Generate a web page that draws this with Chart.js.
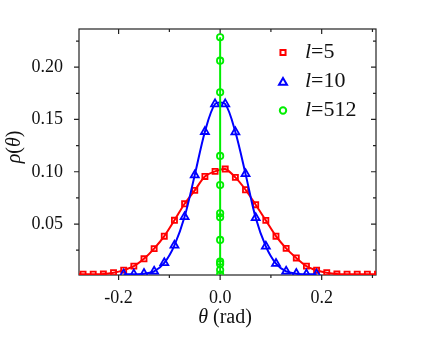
<!DOCTYPE html>
<html>
<head>
<meta charset="utf-8">
<script src="https://cdn.jsdelivr.net/npm/chart.js@4/dist/chart.umd.min.js"></script>
<style>
  body { margin: 0; background: #fff; }
  canvas { display: block; }
</style>
</head>
<body>
<canvas id="myChart" width="436" height="345"></canvas>
<script>
// theta values (rad) for each series
let redTheta = [-0.29, -0.27, -0.25, -0.23, -0.21, -0.19, -0.17, -0.15, -0.13, -0.11, -0.09, -0.07, -0.05, -0.03, -0.01,
  0.01, 0.03, 0.05, 0.07, 0.09, 0.11, 0.13, 0.15, 0.17, 0.19, 0.21, 0.23, 0.25, 0.27, 0.29, 0.31];
let redRho = [0.002, 0.002, 0.002, 0.0022, 0.0035, 0.006, 0.0098, 0.0168, 0.0265, 0.0384, 0.0536, 0.0694, 0.0822, 0.0955, 0.1004,
  0.1026, 0.0946, 0.0828, 0.0685, 0.0535, 0.0384, 0.0268, 0.0176, 0.0098, 0.0058, 0.0035, 0.0022, 0.002, 0.002, 0.002, 0.002];

let blueTheta = [-0.19, -0.17, -0.15, -0.13, -0.11, -0.09, -0.07, -0.05, -0.03, -0.01,
  0.01, 0.03, 0.05, 0.07, 0.09, 0.11, 0.13, 0.15, 0.17, 0.19];
let blueRho = [0.002, 0.002, 0.0026, 0.0048, 0.0129, 0.0297, 0.0569, 0.0968, 0.1383, 0.1648,
  0.1648, 0.138, 0.098, 0.056, 0.0287, 0.0122, 0.0048, 0.0026, 0.002, 0.002];

let greenTheta = [0, 0, 0, 0, 0, 0, 0, 0, 0, 0, 0, 0];
let greenRho = [0.2286, 0.2062, 0.176, 0.1151, 0.0873, 0.0603, 0.0565, 0.0348, 0.014, 0.0118, 0.0061, 0.0018];

let xMajor = [-0.2, 0, 0.2];
let xMinor = [-0.1, 0.1, 0.3];
let yMajor = [0.05, 0.1, 0.15, 0.2];
let yMinor = [0.025, 0.075, 0.125, 0.175, 0.225];

let seriesNames = ["5", "10", "512"];
let seriesColors = ["#ff0000", "#0000ff", "#00ee00"];
let seriesStyles = ["rect", "triangle", "circle"];

function toPoints(xs, ys) {
  let pts = [];
  for (let i = 0; i < xs.length; i++) {
    pts.push({ x: xs[i], y: ys[i] });
  }
  return pts;
}

const SERIF = '"Liberation Serif", "Times New Roman", Times, serif';

// draw a string made of parts with different fonts
function drawParts(ctx, parts, x, y, align) {
  let total = 0;
  parts.forEach(function (p) {
    ctx.font = p.font;
    p.w = ctx.measureText(p.text).width;
    total += p.w;
  });
  let cx = align === "center" ? x - total / 2 : x;
  ctx.textAlign = "left";
  ctx.textBaseline = "middle";
  parts.forEach(function (p) {
    ctx.font = p.font;
    ctx.fillText(p.text, cx, y);
    cx += p.w;
  });
}

function marker(ctx, style, x, y, r) {
  ctx.beginPath();
  if (style === "rect") {
    let s = r * Math.SQRT1_2;
    ctx.rect(x - s, y - s, 2 * s, 2 * s);
  } else if (style === "triangle") {
    ctx.moveTo(x, y - r);
    ctx.lineTo(x + r * Math.sin(2 * Math.PI / 3), y + r * 0.5);
    ctx.lineTo(x - r * Math.sin(2 * Math.PI / 3), y + r * 0.5);
    ctx.closePath();
  } else {
    ctx.arc(x, y, r, 0, Math.PI * 2);
  }
  ctx.stroke();
}

// box round the plot with ticks on all four sides
const framePlugin = {
  id: "frame",
  beforeDatasetsDraw(chart) {
    const { ctx, chartArea: a, scales } = chart;
    const xs = scales.x, ys = scales.y;
    ctx.save();
    ctx.strokeStyle = "#222";
    ctx.lineWidth = 1.2;
    ctx.strokeRect(a.left, a.top, a.right - a.left, a.bottom - a.top);
    ctx.beginPath();
    function xTick(v, len) {
      let px = xs.getPixelForValue(v);
      ctx.moveTo(px, a.bottom); ctx.lineTo(px, a.bottom + len);
      ctx.moveTo(px, a.top); ctx.lineTo(px, a.top + len);
    }
    function yTick(v, len) {
      let py = ys.getPixelForValue(v);
      ctx.moveTo(a.left, py); ctx.lineTo(a.left - len, py);
      ctx.moveTo(a.right, py); ctx.lineTo(a.right - len, py);
    }
    xMajor.forEach(v => xTick(v, 5));
    xMinor.forEach(v => xTick(v, 3));
    yMajor.forEach(v => yTick(v, 5));
    yMinor.forEach(v => yTick(v, 3));
    ctx.stroke();
    ctx.restore();
  },
};

// axis titles and the legend, with italic symbols
const textPlugin = {
  id: "texts",
  afterDraw(chart) {
    const ctx = chart.ctx;
    ctx.save();
    ctx.fillStyle = "#111";
    let it = "italic 20px " + SERIF;
    let up = "20px " + SERIF;
    drawParts(ctx, [{ text: "\u03b8", font: it }, { text: " (rad)", font: up }], 225, 318, "center");

    ctx.save();
    ctx.translate(15, 147);
    ctx.rotate(-Math.PI / 2);
    drawParts(ctx, [
      { text: "\u03c1", font: it },
      { text: "(", font: up },
      { text: "\u03b8", font: it },
      { text: ")", font: up },
    ], 0, 0, "center");
    ctx.restore();

    let rowY = [52.5, 81.5, 110.5];
    for (let i = 0; i < seriesNames.length; i++) {
      ctx.strokeStyle = seriesColors[i];
      ctx.lineWidth = 2;
      let r = seriesStyles[i] === "triangle" ? 4.6 : seriesStyles[i] === "rect" ? 3.6 : 3.2;
      marker(ctx, seriesStyles[i], 283, rowY[i] + (seriesStyles[i] === "triangle" ? 1 : 0), r);
      ctx.fillStyle = "#111";
      drawParts(ctx, [
        { text: "l", font: "italic 22px " + SERIF },
        { text: "=" + seriesNames[i], font: "22px " + SERIF },
      ], 305, rowY[i], "left");
    }
    ctx.restore();
  },
};

function makeDataset(i, pts, radius, order) {
  return {
    label: "l=" + seriesNames[i],
    data: pts,
    showLine: true,
    borderColor: seriesColors[i],
    borderWidth: 2,
    backgroundColor: "rgba(0,0,0,0)",
    pointStyle: seriesStyles[i],
    pointRadius: radius,
    pointBorderWidth: 1.8,
    pointBackgroundColor: "rgba(0,0,0,0)",
    pointBorderColor: seriesColors[i],
    tension: 0.3,
    order: order,
  };
}

function showChart() {
  const ctx = document.getElementById("myChart").getContext("2d");
  new Chart(ctx, {
    type: "scatter",
    data: {
      datasets: [
        makeDataset(0, toPoints(redTheta, redRho), 3.6, 3),
        makeDataset(1, toPoints(blueTheta, blueRho), 4.6, 2),
        makeDataset(2, toPoints(greenTheta, greenRho), 3.2, 1),
      ],
    },
    options: {
      responsive: false,
      animation: false,
      devicePixelRatio: 1,
      layout: { padding: { left: 0, top: 29, right: 60, bottom: 0 } },
      plugins: {
        legend: { display: false },
        tooltip: { enabled: false },
      },
      scales: {
        x: {
          type: "linear",
          min: -0.278,
          max: 0.307,
          grid: { display: false },
          border: { display: false },
          afterBuildTicks: function (scale) {
            scale.ticks = xMajor.map(v => ({ value: v }));
          },
          afterFit: function (scale) {
            scale.height = 70;
          },
          ticks: {
            color: "#111",
            padding: 4,
            maxRotation: 0,
            font: { family: SERIF, size: 18 },
            callback: v => v.toFixed(1),
          },
        },
        y: {
          type: "linear",
          min: 0.0013,
          max: 0.2365,
          grid: { display: false },
          border: { display: false },
          afterBuildTicks: function (scale) {
            scale.ticks = yMajor.map(v => ({ value: v }));
          },
          afterFit: function (scale) {
            scale.width = 79;
          },
          ticks: {
            color: "#111",
            padding: 8,
            font: { family: SERIF, size: 18 },
            callback: v => v.toFixed(2),
          },
        },
      },
    },
    plugins: [framePlugin, textPlugin],
  });
}

showChart();
</script>
</body>
</html>
